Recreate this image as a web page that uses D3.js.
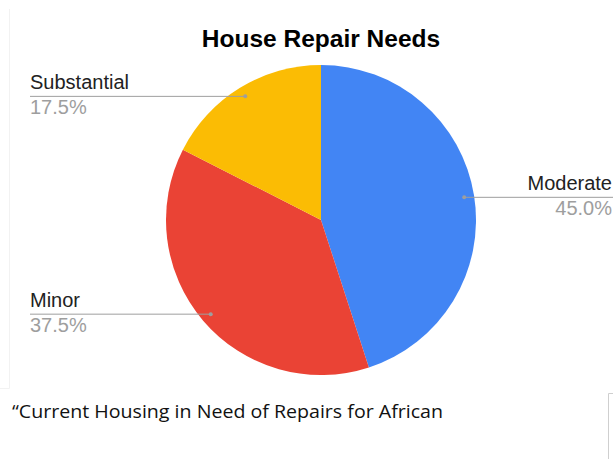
<!DOCTYPE html>
<html>
<head>
<meta charset="utf-8">
<script src="https://cdn.jsdelivr.net/npm/d3@7"></script>
<style>
  html, body { margin: 0; padding: 0; background: #fff; }
  svg { display: block; }
</style>
</head>
<body>
<svg id="chart" width="613" height="459"></svg>
<script>
const categories = ["Moderate", "Minor", "Substantial"];
const values = [45.0, 37.5, 17.5];
const colors = ["#4285F4", "#EA4335", "#FBBC04"];
const title = "House Repair Needs";
const caption = "\u201CCurrent Housing in Need of Repairs for African";

const W = 613, H = 459;
const cx = 321, cy = 220, R = 155;
const svg = d3.select("#chart");

// faint frame lines
svg.append("path").attr("d", "M9.5,9 V388.5 H0").attr("fill", "none")
  .attr("stroke", "#f2f2f2").attr("stroke-width", 1);
svg.append("path").attr("d", "M613,393.5 H608.5 V459").attr("fill", "none")
  .attr("stroke", "#cfcfcf").attr("stroke-width", 1);

svg.append("text").attr("x", cx).attr("y", 47).attr("text-anchor", "middle")
  .attr("font-family", "Arial, 'Liberation Sans', sans-serif")
  .attr("font-weight", "bold").attr("font-size", 24.5).attr("fill", "#000")
  .text(title);

const data = categories.map((c, i) => ({ name: c, value: values[i], color: colors[i] }));
const pie = d3.pie().value(d => d.value).sort(null);
const arcs = pie(data);
const arc = d3.arc().innerRadius(0).outerRadius(R);

const g = svg.append("g").attr("transform", `translate(${cx},${cy})`);
g.selectAll("path.slice").data(arcs).join("path")
  .attr("class", "slice")
  .attr("d", arc)
  .attr("fill", d => d.data.color);

const font = "Arial, 'Liberation Sans', sans-serif";
arcs.forEach(a => {
  const mid = (a.startAngle + a.endAngle) / 2;
  const rr = R - 10;
  const px = cx + rr * Math.sin(mid);
  const py = cy - rr * Math.cos(mid);
  const right = Math.sin(mid) > 0;
  const x2 = right ? 613 : 30;
  svg.append("line").attr("x1", px).attr("y1", py).attr("x2", x2).attr("y2", py)
    .attr("stroke", "#9e9e9e").attr("stroke-width", 1);
  svg.append("circle").attr("cx", px).attr("cy", py).attr("r", 2).attr("fill", "#9e9e9e");
  const tx = right ? 612 : 30;
  const anchor = right ? "end" : "start";
  svg.append("text").attr("x", tx).attr("y", py - 7).attr("text-anchor", anchor)
    .attr("font-family", font).attr("font-size", 20).attr("fill", "#222")
    .text(a.data.name);
  svg.append("text").attr("x", tx).attr("y", py + 17.5).attr("text-anchor", anchor)
    .attr("font-family", font).attr("font-size", 20).attr("fill", "#9e9e9e")
    .text(a.data.value.toFixed(1) + "%");
});

svg.append("text").attr("x", 12).attr("y", 418)
  .attr("font-family", "'Open Sans', 'Liberation Sans', sans-serif")
  .attr("font-size", 19).attr("fill", "#111")
  .attr("textLength", 431).attr("lengthAdjust", "spacingAndGlyphs")
  .text(caption);
</script>
</body>
</html>
